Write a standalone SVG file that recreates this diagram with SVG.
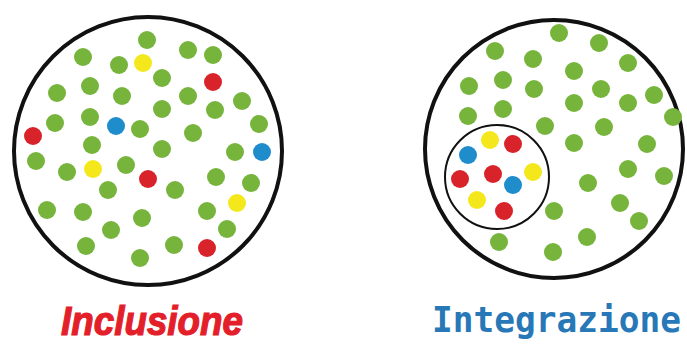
<svg xmlns="http://www.w3.org/2000/svg" width="687" height="344" viewBox="0 0 687 344">
<style>
.ring{fill:none;stroke:#111;stroke-width:4}
.inner{fill:none;stroke:#111;stroke-width:2}
.g{fill:#76b43c}
.r{fill:#d9232b}
.b{fill:#1f8ccc}
.y{fill:#f4e81c}
.lbl1{font-family:"Liberation Sans",Arial,sans-serif;font-weight:bold;font-style:italic;font-size:40px;fill:#e3202a;stroke:#e3202a;stroke-width:1.2}
.lbl2{font-family:"DejaVu Sans Mono","Liberation Mono",monospace;font-weight:bold;font-size:35px;fill:#2878b8}
</style>
<rect width="687" height="344" fill="#ffffff"/>
<g id="inclusione">
<circle class="ring" cx="148" cy="151" r="134"/>
<g>
<circle class="g" cx="147" cy="40" r="9"/>
<circle class="g" cx="83" cy="57" r="9"/>
<circle class="g" cx="188" cy="50" r="9"/>
<circle class="g" cx="213" cy="55" r="9"/>
<circle class="g" cx="119" cy="65" r="9"/>
<circle class="y" cx="143" cy="63" r="9"/>
<circle class="g" cx="162" cy="78" r="9"/>
<circle class="r" cx="213" cy="82" r="9"/>
<circle class="g" cx="57" cy="93" r="9"/>
<circle class="g" cx="90" cy="86" r="9"/>
<circle class="g" cx="122" cy="96" r="9"/>
<circle class="g" cx="188" cy="96" r="9"/>
<circle class="g" cx="242" cy="101" r="9"/>
<circle class="g" cx="215" cy="110" r="9"/>
<circle class="g" cx="162" cy="109" r="9"/>
<circle class="g" cx="55" cy="123" r="9"/>
<circle class="g" cx="90" cy="117" r="9"/>
<circle class="b" cx="116" cy="126" r="9"/>
<circle class="g" cx="140" cy="129" r="9"/>
<circle class="g" cx="193" cy="133" r="9"/>
<circle class="g" cx="259" cy="124" r="9"/>
<circle class="r" cx="33" cy="136" r="9"/>
<circle class="g" cx="92" cy="145" r="9"/>
<circle class="g" cx="162" cy="149" r="9"/>
<circle class="g" cx="235" cy="152" r="9"/>
<circle class="b" cx="262" cy="152" r="9"/>
<circle class="g" cx="36" cy="161" r="9"/>
<circle class="g" cx="67" cy="172" r="9"/>
<circle class="y" cx="93" cy="169" r="9"/>
<circle class="g" cx="126" cy="165" r="9"/>
<circle class="r" cx="148" cy="179" r="9"/>
<circle class="g" cx="108" cy="190" r="9"/>
<circle class="g" cx="175" cy="190" r="9"/>
<circle class="g" cx="216" cy="177" r="9"/>
<circle class="g" cx="251" cy="183" r="9"/>
<circle class="y" cx="237" cy="203" r="9"/>
<circle class="g" cx="47" cy="210" r="9"/>
<circle class="g" cx="83" cy="212" r="9"/>
<circle class="g" cx="142" cy="218" r="9"/>
<circle class="g" cx="207" cy="211" r="9"/>
<circle class="g" cx="111" cy="230" r="9"/>
<circle class="g" cx="227" cy="229" r="9"/>
<circle class="g" cx="86" cy="246" r="9"/>
<circle class="g" cx="174" cy="245" r="9"/>
<circle class="r" cx="207" cy="248" r="9"/>
<circle class="g" cx="140" cy="258" r="9"/>
</g>
<text class="lbl1" x="61" y="335" textLength="182" lengthAdjust="spacingAndGlyphs">Inclusione</text>
</g>
<g id="integrazione">
<circle class="ring" cx="554" cy="149" r="129"/>
<g>
<circle class="g" cx="559" cy="33" r="9"/>
<circle class="g" cx="599" cy="43" r="9"/>
<circle class="g" cx="495" cy="51" r="9"/>
<circle class="g" cx="533" cy="59" r="9"/>
<circle class="g" cx="628" cy="63" r="9"/>
<circle class="g" cx="574" cy="71" r="9"/>
<circle class="g" cx="469" cy="86" r="9"/>
<circle class="g" cx="503" cy="80" r="9"/>
<circle class="g" cx="534" cy="89" r="9"/>
<circle class="g" cx="601" cy="89" r="9"/>
<circle class="g" cx="654" cy="95" r="9"/>
<circle class="g" cx="574" cy="103" r="9"/>
<circle class="g" cx="628" cy="103" r="9"/>
<circle class="g" cx="468" cy="116" r="9"/>
<circle class="g" cx="503" cy="109" r="9"/>
<circle class="g" cx="545" cy="126" r="9"/>
<circle class="g" cx="604" cy="127" r="9"/>
<circle class="g" cx="673" cy="117" r="9"/>
<circle class="g" cx="574" cy="143" r="9"/>
<circle class="g" cx="647" cy="144" r="9"/>
<circle class="g" cx="628" cy="169" r="9"/>
<circle class="g" cx="664" cy="176" r="9"/>
<circle class="g" cx="588" cy="183" r="9"/>
<circle class="g" cx="620" cy="203" r="9"/>
<circle class="g" cx="639" cy="221" r="9"/>
<circle class="g" cx="554" cy="211" r="9"/>
<circle class="g" cx="587" cy="237" r="9"/>
<circle class="g" cx="499" cy="242" r="9"/>
<circle class="g" cx="553" cy="252" r="9"/>
</g>
<g id="gruppo">
<circle class="inner" cx="497" cy="177" r="52"/>
<circle class="y" cx="490" cy="140" r="9"/>
<circle class="r" cx="513" cy="144" r="9"/>
<circle class="b" cx="468" cy="155" r="9"/>
<circle class="y" cx="533" cy="172" r="9"/>
<circle class="r" cx="460" cy="179" r="9"/>
<circle class="r" cx="493" cy="174" r="9"/>
<circle class="b" cx="513" cy="185" r="9"/>
<circle class="y" cx="477" cy="200" r="9"/>
<circle class="r" cx="504" cy="211" r="9"/>
</g>
<text class="lbl2" x="432" y="332" textLength="249" lengthAdjust="spacingAndGlyphs">Integrazione</text>
</g>
</svg>
